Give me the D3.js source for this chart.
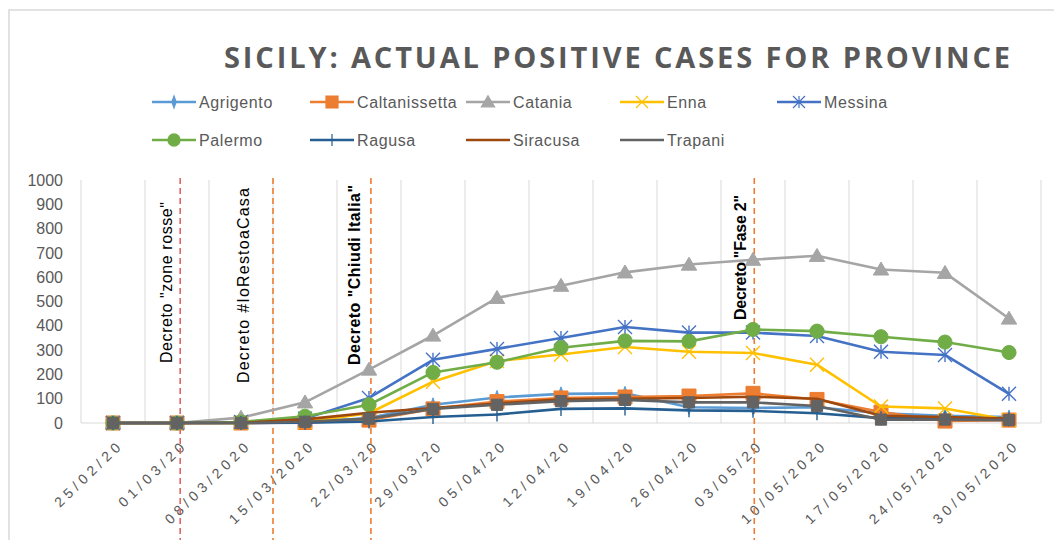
<!DOCTYPE html>
<html>
<head>
<meta charset="utf-8">
<script src="https://cdn.jsdelivr.net/npm/d3@7"></script>
<style>
  body { margin: 0; background: #fff; }
  svg { display: block; font-family: 'Liberation Sans', sans-serif; }
</style>
</head>
<body>
<div class="canvas"></div>
<script>
const categories = ['25/02/20', '01/03/20', '08/03/2020', '15/03/2020', '22/03/20', '29/03/20', '05/04/20',
  '12/04/20', '19/04/20', '26/04/20', '03/05/20', '10/05/2020', '17/05/2020', '24/05/2020', '30/05/2020']
const agrigento = [0, 0, 0, 3, 20, 75, 105, 120, 122, 65, 62, 65, 40, 30, 25]
const caltanissetta = [0, 0, 0, 2, 12, 58, 88, 103, 107, 111, 122, 97, 45, 8, 12]
const catania = [0, 0, 22, 85, 220, 360, 515, 565, 620, 652, 672, 688, 632, 618, 430]
const enna = [0, 0, 0, 4, 40, 170, 255, 282, 313, 293, 288, 240, 68, 60, 12]
const messina = [0, 0, 4, 18, 103, 260, 305, 350, 395, 372, 372, 358, 293, 280, 120]
const palermo = [0, 0, 4, 28, 75, 208, 250, 310, 338, 336, 385, 378, 355, 333, 290]
const ragusa = [0, 0, 0, 1, 6, 25, 35, 58, 60, 52, 50, 40, 20, 20, 15]
const siracusa = [0, 0, 1, 15, 42, 62, 80, 98, 100, 103, 108, 100, 30, 25, 18]
const trapani = [0, 0, 0, 5, 18, 58, 75, 90, 95, 85, 85, 70, 14, 14, 12]
const yTicks = [0, 100, 200, 300, 400, 500, 600, 700, 800, 900, 1000]

const series = [
  {name: 'Agrigento', values: agrigento, color: '#5B9BD5', marker: 'diamond'},
  {name: 'Caltanissetta', values: caltanissetta, color: '#ED7D31', marker: 'square'},
  {name: 'Catania', values: catania, color: '#A5A5A5', marker: 'triangle'},
  {name: 'Enna', values: enna, color: '#FFC000', marker: 'x'},
  {name: 'Messina', values: messina, color: '#4472C4', marker: 'star'},
  {name: 'Palermo', values: palermo, color: '#70AD47', marker: 'circle'},
  {name: 'Ragusa', values: ragusa, color: '#255E91', marker: 'plus'},
  {name: 'Siracusa', values: siracusa, color: '#9E480E', marker: 'none'},
  {name: 'Trapani', values: trapani, color: '#636363', marker: 'smallsquare'}
]

// decree annotations: category and offset inside band (0.5 = centre, 0 = left edge)
const decrees = [
  {text: 'Decreto "zone rosse"', cat: '01/03/20', at: 0.55, color: '#E06666', bold: false, len: 161, bottom: 363, dx: -14},
  {text: 'Decreto  #IoRestoaCasa', cat: '15/03/2020', at: 0, color: '#ED7D31', bold: false, len: 195, bottom: 383, dx: -30},
  {text: 'Decreto "Chiudi Italia"', cat: '22/03/20', at: 0.53, color: '#ED7D31', bold: true, len: 180, bottom: 365, dx: -16},
  {text: 'Decreto "Fase 2"', cat: '03/05/20', at: 0.52, color: '#ED7D31', bold: true, len: 125, bottom: 320, dx: -14}
]

const width = 1054
const height = 540
const plot = {left: 81, right: 1041, top: 180, bottom: 423}

const svg = d3.select('.canvas').append('svg')
  .attr('width', width)
  .attr('height', height)

// chart frame
svg.append('path')
  .attr('d', `M9,${height} V10 H${width}`)
  .attr('fill', 'none')
  .attr('stroke', '#d9d9d9')
  .attr('stroke-width', 1.5)

svg.append('text')
  .attr('x', 224)
  .attr('y', 68)
  .attr('textLength', 786)
  .attr('lengthAdjust', 'spacing')
  .attr('font-family', 'Open Sans')
  .attr('font-size', 29)
  .attr('font-weight', 'bold')
  .attr('fill', '#595959')
  .text('SICILY: ACTUAL POSITIVE CASES FOR PROVINCE')

const x = d3.scaleBand()
  .domain(categories)
  .range([plot.left, plot.right])
  .padding(0)
const cx = c => x(c) + x.bandwidth() / 2

const y = d3.scaleLinear()
  .domain([0, 1000])
  .range([plot.bottom, plot.top])

// vertical gridlines at category borders
const grid = svg.append('g')
grid.selectAll('line')
  .data(categories.concat(['end']))
  .enter().append('line')
  .attr('x1', d => d === 'end' ? plot.right : x(d))
  .attr('x2', d => d === 'end' ? plot.right : x(d))
  .attr('y1', plot.top)
  .attr('y2', plot.bottom)
  .attr('stroke', '#d9d9d9')
  .attr('stroke-width', 1)
grid.append('line')
  .attr('x1', plot.left).attr('x2', plot.right)
  .attr('y1', y(0)).attr('y2', y(0))
  .attr('stroke', '#d9d9d9')

const yAxis = svg.append('g')
  .attr('transform', `translate(${plot.left}, 0)`)
  .call(d3.axisLeft(y).tickValues(yTicks).tickFormat(d3.format('d')).tickSize(0).tickPadding(18))
yAxis.select('.domain').remove()
yAxis.selectAll('text')
  .attr('font-family', 'Liberation Sans')
  .attr('font-size', 16)
  .attr('fill', '#595959')

const xAxis = svg.append('g')
  .attr('transform', `translate(0, ${plot.bottom})`)
  .call(d3.axisBottom(x).tickSize(0))
xAxis.select('.domain').remove()
xAxis.selectAll('text')
  .attr('font-family', 'Liberation Sans')
  .attr('font-size', 14)
  .attr('letter-spacing', 4.4)
  .attr('fill', '#595959')
  .attr('text-anchor', 'end')
  .attr('dy', '0.35em')
  .attr('transform', 'translate(6, 17) rotate(-44)')

// decree dashed lines
const ann = svg.append('g')
ann.selectAll('line')
  .data(decrees)
  .enter().append('line')
  .attr('x1', d => x(d.cat) + x.bandwidth() * d.at)
  .attr('x2', d => x(d.cat) + x.bandwidth() * d.at)
  .attr('y1', 178)
  .attr('y2', height)
  .attr('stroke', d => d.color)
  .attr('stroke-width', 1.6)
  .attr('stroke-dasharray', '6,4')

const symbolPath = (type, size) => {
  const s = size / 2
  switch (type) {
    case 'square': return `M${-s},${-s}H${s}V${s}H${-s}Z`
    case 'smallsquare': return `M${-s * 0.8},${-s * 0.8}H${s * 0.8}V${s * 0.8}H${-s * 0.8}Z`
    case 'triangle': return `M0,${-s * 1.05}L${s * 1.1},${s * 0.8}L${-s * 1.1},${s * 0.8}Z`
    case 'circle': return d3.symbol(d3.symbolCircle, size * size * 0.8)()
    case 'diamond': return `M0,${-s}L${s * 0.35},0L0,${s}L${-s * 0.35},0Z M${-s * 0.5},0H${s * 0.5}`
    case 'x': return `M${-s},${-s}L${s},${s}M${s},${-s}L${-s},${s}`
    case 'star': return `M${-s},${-s}L${s},${s}M${s},${-s}L${-s},${s}M0,${-s}V${s}`
    case 'plus': return `M0,${-s}V${s}M${-s * 0.6},0H${s * 0.6}`
    default: return ''
  }
}
const filled = t => ['square', 'smallsquare', 'triangle', 'circle', 'diamond'].includes(t)

const line = d3.line()
  .x((d, i) => cx(categories[i]))
  .y(d => y(d))

const lines = svg.append('g')
series.forEach(s => {
  const g = lines.append('g')
  g.append('path')
    .attr('d', line(s.values))
    .attr('fill', 'none')
    .attr('stroke', s.color)
    .attr('stroke-width', 2.6)
    .attr('stroke-linejoin', 'round')
  if (s.marker !== 'none') {
    g.selectAll('path.m')
      .data(s.values)
      .enter().append('path')
      .attr('class', 'm')
      .attr('transform', (d, i) => `translate(${cx(categories[i])}, ${y(d)})`)
      .attr('d', symbolPath(s.marker, 14))
      .attr('fill', filled(s.marker) ? s.color : 'none')
      .attr('stroke', s.color)
      .attr('stroke-width', filled(s.marker) ? 1 : 1.4)
  }
})

// decree labels (vertical)
ann.selectAll('text')
  .data(decrees)
  .enter().append('text')
  .attr('transform', d => `translate(${x(d.cat) + x.bandwidth() * d.at + d.dx}, ${d.bottom}) rotate(-90)`)
  .attr('dominant-baseline', 'central')
  .attr('textLength', d => d.len)
  .attr('lengthAdjust', 'spacing')
  .attr('font-family', 'Liberation Sans')
  .attr('font-size', 16)
  .attr('font-weight', d => d.bold ? 'bold' : 'normal')
  .attr('fill', '#000')
  .text(d => d.text)

// legend
const legendCols = [152, 310, 466, 620, 777]
const legendRows = [102, 140]
const legend = svg.append('g')
series.forEach((s, i) => {
  const lx = legendCols[i % 5]
  const ly = legendRows[Math.floor(i / 5)]
  const g = legend.append('g').attr('transform', `translate(${lx}, ${ly})`)
  g.append('line')
    .attr('x1', 0).attr('x2', 44)
    .attr('stroke', s.color)
    .attr('stroke-width', 2.6)
  if (s.marker !== 'none' && s.marker !== 'smallsquare') {
    g.append('path')
      .attr('transform', 'translate(22, 0)')
      .attr('d', symbolPath(s.marker, 12))
      .attr('fill', filled(s.marker) ? s.color : 'none')
      .attr('stroke', s.color)
      .attr('stroke-width', 1.2)
  }
  g.append('text')
    .attr('x', 47)
    .attr('dy', '0.35em')
    .attr('font-family', 'Liberation Sans')
    .attr('font-size', 16)
    .attr('letter-spacing', 0.6)
    .attr('fill', '#595959')
    .text(s.name)
})
</script>
</body>
</html>
